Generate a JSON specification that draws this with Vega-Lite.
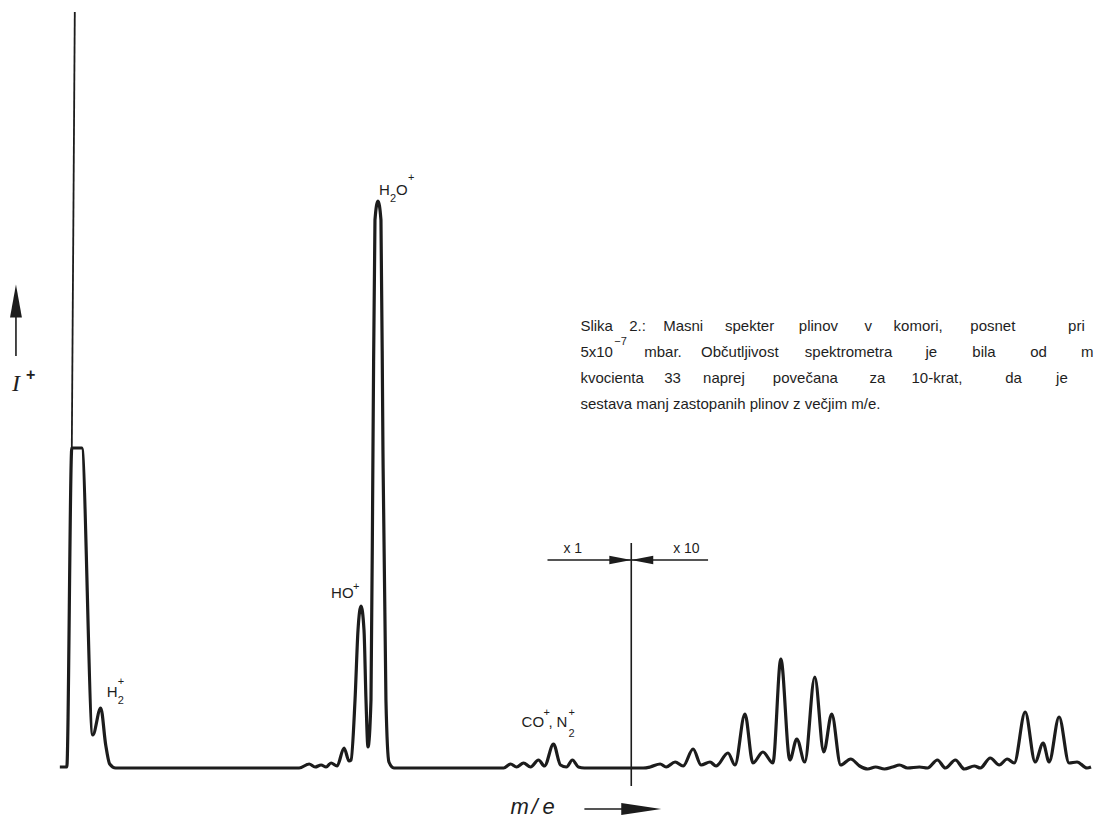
{
  "$schema": "https://vega.github.io/schema/vega-lite/v6.json",
  "width": 1094,
  "height": 818,
  "padding": 0,
  "autosize": {"type": "fit", "contains": "padding"},
  "background": "#ffffff",
  "config": {"view": {"stroke": null}},
  "datasets": {
    "spectrum": [
      {"x": 60, "y": 1}, {"x": 67, "y": 1}, {"x": 72, "y": 320}, {"x": 82, "y": 320},
      {"x": 93, "y": 33}, {"x": 101, "y": 60}, {"x": 106, "y": 23}, {"x": 110, "y": 4}, {"x": 116, "y": 0},
      {"x": 300, "y": 0}, {"x": 310, "y": 4}, {"x": 316, "y": 1}, {"x": 322, "y": 3}, {"x": 327, "y": 1},
      {"x": 332, "y": 5}, {"x": 338, "y": 2}, {"x": 345, "y": 20}, {"x": 350, "y": 7}, {"x": 352, "y": 8},
      {"x": 356, "y": 68}, {"x": 359, "y": 138}, {"x": 362, "y": 162}, {"x": 365, "y": 138}, {"x": 367, "y": 68},
      {"x": 369, "y": 21}, {"x": 372, "y": 68}, {"x": 374, "y": 318}, {"x": 376, "y": 548}, {"x": 379, "y": 567},
      {"x": 382, "y": 548}, {"x": 384, "y": 318}, {"x": 387, "y": 68}, {"x": 390, "y": 6}, {"x": 395, "y": 0},
      {"x": 505, "y": 0}, {"x": 512, "y": 4}, {"x": 518, "y": 1}, {"x": 525, "y": 5}, {"x": 532, "y": 1},
      {"x": 540, "y": 8}, {"x": 546, "y": 2}, {"x": 555, "y": 24}, {"x": 562, "y": 3}, {"x": 568, "y": 1},
      {"x": 574, "y": 8}, {"x": 580, "y": 1}, {"x": 586, "y": 0}, {"x": 645, "y": 0}, {"x": 652, "y": 1},
      {"x": 662, "y": 4}, {"x": 668, "y": 1}, {"x": 677, "y": 6}, {"x": 685, "y": 2}, {"x": 695, "y": 19},
      {"x": 703, "y": 3}, {"x": 712, "y": 6}, {"x": 718, "y": 2}, {"x": 730, "y": 15}, {"x": 737, "y": 3},
      {"x": 747, "y": 54}, {"x": 755, "y": 5}, {"x": 765, "y": 16}, {"x": 775, "y": 5}, {"x": 783, "y": 109},
      {"x": 792, "y": 8}, {"x": 799, "y": 29}, {"x": 807, "y": 6}, {"x": 817, "y": 91}, {"x": 826, "y": 16},
      {"x": 834, "y": 54}, {"x": 843, "y": 3}, {"x": 853, "y": 9}, {"x": 862, "y": 2}, {"x": 870, "y": -1},
      {"x": 878, "y": 1}, {"x": 887, "y": -1}, {"x": 895, "y": 1}, {"x": 902, "y": 3}, {"x": 910, "y": 0},
      {"x": 922, "y": 1}, {"x": 930, "y": 0}, {"x": 940, "y": 8}, {"x": 948, "y": 0}, {"x": 958, "y": 8},
      {"x": 967, "y": -1}, {"x": 977, "y": 2}, {"x": 983, "y": 0}, {"x": 993, "y": 10}, {"x": 1002, "y": 3},
      {"x": 1010, "y": 9}, {"x": 1017, "y": 5}, {"x": 1028, "y": 56}, {"x": 1038, "y": 6}, {"x": 1046, "y": 25},
      {"x": 1052, "y": 6}, {"x": 1062, "y": 51}, {"x": 1072, "y": 5}, {"x": 1080, "y": 6}, {"x": 1090, "y": 0},
      {"x": 1094, "y": 1}
    ],
    "offscale": [{"x": 72, "y": 320}, {"x": 75, "y": 756}],
    "vrules": [
      {"x": 633, "y": 225, "y2": -18},
      {"x": 16, "y": 412, "y2": 452}
    ],
    "hrules": [
      {"x": 549, "x2": 710, "y": 208},
      {"x": 586, "x2": 630, "y": -41}
    ],
    "headRight": [{"x": 622, "y": 208}],
    "headLeft": [{"x": 644, "y": 208}],
    "headAxisX": [{"x": 643, "y": -41}],
    "headAxisY": [{"x": 16, "y": 467}],
    "caption": [
      {"x": 582, "y": 437, "t": "Slika"}, {"x": 631, "y": 437, "t": "2.:"}, {"x": 665, "y": 437, "t": "Masni"},
      {"x": 727, "y": 437, "t": "spekter"}, {"x": 801, "y": 437, "t": "plinov"}, {"x": 867, "y": 437, "t": "v"},
      {"x": 896, "y": 437, "t": "komori,"}, {"x": 973, "y": 437, "t": "posnet"}, {"x": 1071, "y": 437, "t": "pri"},
      {"x": 582, "y": 411, "t": "5x10"}, {"x": 646, "y": 411, "t": "mbar."}, {"x": 703, "y": 411, "t": "Občutljivost"},
      {"x": 807, "y": 411, "t": "spektrometra"}, {"x": 928, "y": 411, "t": "je"}, {"x": 975, "y": 411, "t": "bila"},
      {"x": 1033, "y": 411, "t": "od"}, {"x": 1084, "y": 411, "t": "m"},
      {"x": 582, "y": 385, "t": "kvocienta"}, {"x": 666, "y": 385, "t": "33"}, {"x": 705, "y": 385, "t": "naprej"},
      {"x": 775, "y": 385, "t": "povečana"}, {"x": 872, "y": 385, "t": "za"}, {"x": 914, "y": 385, "t": "10-krat,"},
      {"x": 1008, "y": 385, "t": "da"}, {"x": 1059, "y": 385, "t": "je"},
      {"x": 582, "y": 359, "t": "sestava manj zastopanih plinov z večjim m/e."}
    ],
    "captionSup": [{"x": 616, "y": 423, "t": "−7"}],
    "labels": [
      {"x": 107, "y": 71, "t": "H"},
      {"x": 332, "y": 170, "t": "HO"},
      {"x": 380, "y": 573, "t": "H"}, {"x": 397, "y": 573, "t": "O"},
      {"x": 523, "y": 41, "t": "CO"}, {"x": 550, "y": 41, "t": ","}, {"x": 558, "y": 41, "t": "N"}
    ],
    "labelSmall": [
      {"x": 118, "y": 83, "t": "+"}, {"x": 118, "y": 64, "t": "2"},
      {"x": 354, "y": 178, "t": "+"},
      {"x": 391, "y": 566, "t": "2"}, {"x": 409, "y": 587, "t": "+"},
      {"x": 545, "y": 52, "t": "+"}, {"x": 570, "y": 52, "t": "+"}, {"x": 570, "y": 31, "t": "2"}
    ],
    "scaleText": [{"x": 565, "y": 215, "t": "x 1"}, {"x": 675, "y": 215, "t": "x 10"}],
    "xTitle": [{"x": 512, "y": -46, "t": "m"}, {"x": 533, "y": -46, "t": "/"}, {"x": 544, "y": -46, "t": "e"}],
    "yTitle": [{"x": 12, "y": 377, "t": "I"}],
    "yTitleSup": [{"x": 26, "y": 388, "t": "+"}]
  },
  "encoding": {
    "x": {"field": "x", "type": "quantitative", "scale": {"domain": [0, 1094], "nice": false, "zero": false}, "axis": null},
    "y": {"field": "y", "type": "quantitative", "scale": {"domain": [-50, 768], "nice": false, "zero": false}, "axis": null}
  },
  "layer": [
    {"data": {"name": "offscale"}, "mark": {"type": "line", "stroke": "#1c1c1c", "strokeWidth": 1.8}},
    {"data": {"name": "spectrum"}, "mark": {"type": "line", "interpolate": "monotone", "stroke": "#1c1c1c", "strokeWidth": 3.2, "strokeJoin": "round"}},
    {"data": {"name": "vrules"}, "mark": {"type": "rule", "stroke": "#1c1c1c", "strokeWidth": 1.6}, "encoding": {"y2": {"field": "y2"}}},
    {"data": {"name": "hrules"}, "mark": {"type": "rule", "stroke": "#1c1c1c", "strokeWidth": 1.6}, "encoding": {"x2": {"field": "x2"}}},
    {"data": {"name": "headRight"}, "mark": {"type": "point", "shape": "M-1,-0.38L1,0L-1,0.38Z", "size": 484, "filled": true, "fill": "#1c1c1c", "opacity": 1, "strokeWidth": 0}},
    {"data": {"name": "headLeft"}, "mark": {"type": "point", "shape": "M1,-0.38L-1,0L1,0.38Z", "size": 484, "filled": true, "fill": "#1c1c1c", "opacity": 1, "strokeWidth": 0}},
    {"data": {"name": "headAxisX"}, "mark": {"type": "point", "shape": "M-1,-0.3L1,0L-1,0.3Z", "size": 1600, "filled": true, "fill": "#1c1c1c", "opacity": 1, "strokeWidth": 0}},
    {"data": {"name": "headAxisY"}, "mark": {"type": "point", "shape": "M0,-1L0.36,1L-0.36,1Z", "size": 1089, "filled": true, "fill": "#1c1c1c", "opacity": 1, "strokeWidth": 0}},
    {"data": {"name": "caption"}, "mark": {"type": "text", "align": "left", "baseline": "alphabetic", "font": "Liberation Sans", "fontSize": 15, "fill": "#1e1e1e"}, "encoding": {"text": {"field": "t"}}},
    {"data": {"name": "captionSup"}, "mark": {"type": "text", "align": "left", "baseline": "alphabetic", "font": "Liberation Sans", "fontSize": 11, "fill": "#1e1e1e"}, "encoding": {"text": {"field": "t"}}},
    {"data": {"name": "labels"}, "mark": {"type": "text", "align": "left", "baseline": "alphabetic", "font": "Liberation Sans", "fontSize": 15, "fill": "#1e1e1e"}, "encoding": {"text": {"field": "t"}}},
    {"data": {"name": "labelSmall"}, "mark": {"type": "text", "align": "left", "baseline": "alphabetic", "font": "Liberation Sans", "fontSize": 11, "fill": "#1e1e1e"}, "encoding": {"text": {"field": "t"}}},
    {"data": {"name": "scaleText"}, "mark": {"type": "text", "align": "left", "baseline": "alphabetic", "font": "Liberation Sans", "fontSize": 14, "fill": "#1e1e1e"}, "encoding": {"text": {"field": "t"}}},
    {"data": {"name": "xTitle"}, "mark": {"type": "text", "align": "left", "baseline": "alphabetic", "font": "Liberation Sans", "fontStyle": "italic", "fontSize": 22, "fill": "#1e1e1e"}, "encoding": {"text": {"field": "t"}}},
    {"data": {"name": "yTitle"}, "mark": {"type": "text", "align": "left", "baseline": "alphabetic", "font": "Liberation Serif", "fontStyle": "italic", "fontSize": 24, "fill": "#1e1e1e"}, "encoding": {"text": {"field": "t"}}},
    {"data": {"name": "yTitleSup"}, "mark": {"type": "text", "align": "left", "baseline": "alphabetic", "font": "Liberation Sans", "fontWeight": "bold", "fontSize": 16, "fill": "#1e1e1e"}, "encoding": {"text": {"field": "t"}}}
  ]
}
